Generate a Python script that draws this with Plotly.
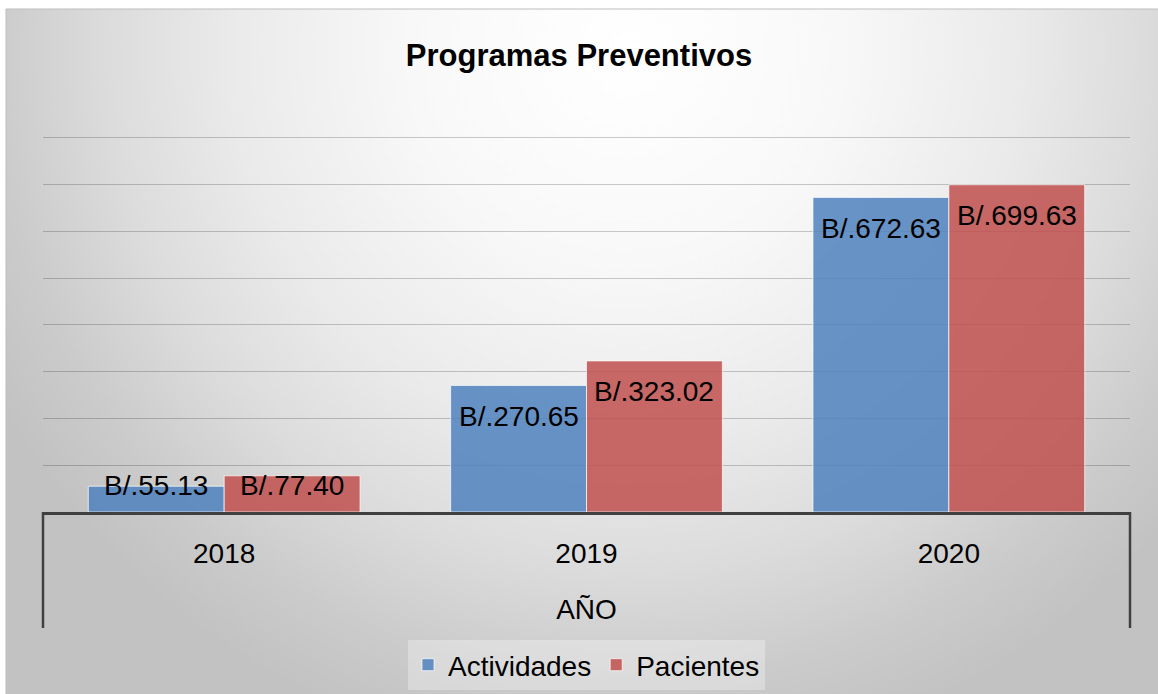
import base64
import plotly.graph_objects as go

# Data
years = ["2018", "2019", "2020"]
group_label = "AÑO"
actividades = [55.13, 270.65, 672.63]
pacientes = [77.40, 323.02, 699.63]

W, H = 1158, 694
ML, MR, MT, MB = 43, 28, 135, 182
PW = W - ML - MR
PH = H - MT - MB
YMAX = 806
px_per_unit = PH / YMAX

sans = "Liberation Sans, Arial, sans-serif"
FS = 28

# Radial grey background like the Excel chart area
bw, bh = W - 6, H - 9
svg = f"""<svg xmlns='http://www.w3.org/2000/svg' width='{bw}' height='{bh}' viewBox='0 0 {bw} {bh}'>
<defs><radialGradient id='g' gradientUnits='userSpaceOnUse' cx='620' cy='40' r='720'>
<stop offset='0' stop-color='#ffffff'/>
<stop offset='0.3' stop-color='#f8f8f8'/>
<stop offset='0.55' stop-color='#eaeaea'/>
<stop offset='0.72' stop-color='#dcdcdc'/>
<stop offset='0.88' stop-color='#cbcbcb'/>
<stop offset='1' stop-color='#c2c2c2'/>
</radialGradient></defs>
<rect width='{bw}' height='{bh}' fill='url(#g)'/></svg>"""
bg_src = "data:image/svg+xml;base64," + base64.b64encode(svg.encode()).decode()

bargap = 0.25
bar_px = PW / len(years) * (1 - bargap) / 2

fig = go.Figure()
fig.add_trace(go.Bar(
    x = years, y = actividades, name = "Actividades",
    marker = dict(color = "rgba(79,129,189,0.85)", line = dict(color = "rgba(255,255,255,0.7)", width = 1)),
))
fig.add_trace(go.Bar(
    x = years, y = pacientes, name = "Pacientes",
    marker = dict(color = "rgba(192,80,77,0.85)", line = dict(color = "rgba(255,255,255,0.7)", width = 1)),
))

# Data labels, "inside end" like Excel (kept above the baseline for short bars)
annotations = []
for series, shift in ((actividades, -bar_px / 2), (pacientes, bar_px / 2)):
    for i, v in enumerate(series):
        if v * px_per_unit > 58:
            y, ys = v, -31
        else:
            y, ys = 0, 27
        annotations.append(dict(
            x = i, y = y, xref = "x", yref = "y", xshift = shift, yshift = ys,
            text = f"B/.{v:.2f}", showarrow = False, xanchor = "center", yanchor = "middle",
            font = dict(family = sans, size = FS, color = "black"),
        ))

div_len = 116 / PH
fig.update_layout(
    width = W, height = H, autosize = False,
    margin = dict(l = ML, r = MR, t = MT, b = MB, pad = 0, autoexpand = False),
    paper_bgcolor = "white", plot_bgcolor = "rgba(0,0,0,0)",
    barmode = "group", bargap = bargap, bargroupgap = 0,
    title = dict(text = "<b>Programas Preventivos</b>", x = 0.5, xanchor = "center",
                 y = 1 - 55 / H, yanchor = "middle",
                 font = dict(family = sans, size = 31, color = "black")),
    font = dict(family = sans, size = FS, color = "black"),
    xaxis = dict(
        type = "category", range = [-0.5, len(years) - 0.5],
        showline = True, linecolor = "#404040", linewidth = 2.5,
        ticks = "outside", ticklen = 15, tickcolor = "rgba(0,0,0,0)", showgrid = False,
        tickfont = dict(family = sans, size = FS, color = "black"),
        title = dict(text = group_label, standoff = 32, font = dict(family = sans, size = FS, color = "black")),
    ),
    yaxis = dict(
        range = [0, YMAX], dtick = 100, showticklabels = False, showline = False,
        zeroline = False, gridcolor = "rgba(0,0,0,0.2)", gridwidth = 1,
    ),
    legend = dict(
        orientation = "h", x = 0.5, xanchor = "center", y = -(640 - (H - MB)) / PH,
        yanchor = "top", bgcolor = "rgba(255,255,255,0.3)",
        font = dict(family = sans, size = FS, color = "black"),
    ),
    annotations = annotations,
    images = [dict(
        source = bg_src, xref = "paper", yref = "paper",
        x = (6 - ML) / PW, y = 1 + (MT - 9) / PH,
        sizex = bw / PW, sizey = bh / PH,
        xanchor = "left", yanchor = "top", sizing = "stretch", layer = "below",
    )],
    shapes = [
        dict(type = "rect", xref = "paper", yref = "paper",
             x0 = (6 - ML) / PW, x1 = (W + 2 - ML) / PW,
             y0 = -(MB + 2) / PH, y1 = 1 + (MT - 9) / PH,
             line = dict(color = "#bdbdbd", width = 1), fillcolor = "rgba(0,0,0,0)", layer = "below"),
        # category group dividers at both ends of the axis
        dict(type = "line", xref = "paper", yref = "paper", x0 = 0, x1 = 0, y0 = 0, y1 = -div_len,
             line = dict(color = "#404040", width = 2.5)),
        dict(type = "line", xref = "paper", yref = "paper", x0 = 1, x1 = 1, y0 = 0, y1 = -div_len,
             line = dict(color = "#404040", width = 2.5)),
    ],
)

fig.write_html("out.html", config = {"displayModeBar": False},
               post_script = "document.body.style.margin = '0';")
